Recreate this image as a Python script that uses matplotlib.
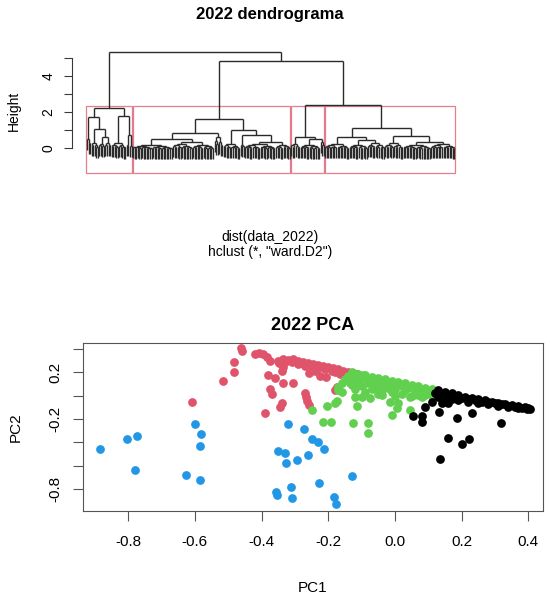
import matplotlib
matplotlib.use("Agg")
import matplotlib.pyplot as plt
from matplotlib.collections import LineCollection
from matplotlib.patches import Rectangle

plt.rcParams['font.family'] = ['Liberation Sans', 'DejaVu Sans']

# -----------------------------------------------------------------------------
# Dendrogram data (ward.D2). Tuples are merges: (height, left, right).
# Lists [k, h] are tight bundles of k leaves whose top merge is at height h.
# -----------------------------------------------------------------------------
cluster1 = (2.26,
            (1.72, [3, 0.50], (1.07, [5, 0.30], (0.61, [4, 0.25], [4, 0.30]))),
            (1.79, [10, 0.30], (0.72, [2, 0.20], [2, 0.15])))
cluster2 = (1.63,
            (0.87, (0.50, [26, 0.20], [27, 0.35]), [6, 0.60]),
            (1.02, [11, 0.25], (0.75, [3, 0.20], (0.37, [20, 0.25], [10, 0.20]))))
cluster3 = (0.64, [6, 0.25], (0.50, [13, 0.20], [3, 0.35]))
cluster4 = (1.15,
            (0.62, [16, 0.25], (0.45, [12, 0.20], [11, 0.30])),
            (0.66, [12, 0.30], (0.37, [18, 0.20], [16, 0.25])))
top_heights = [5.33, 4.87, 2.40]   # root, second, third merge
clusters = [cluster1, cluster2, cluster3, cluster4]

# -----------------------------------------------------------------------------
# PCA scores per cluster
# -----------------------------------------------------------------------------
red_x = [-0.517, -0.609, -0.463, -0.458, -0.483, -0.483, -0.420, -0.407, -0.395, -0.385,
         -0.375, -0.380, -0.360, -0.375, -0.370, -0.335, -0.305, -0.340, -0.345, -0.390,
         -0.347, -0.335, -0.338, -0.350, -0.335, -0.320, -0.305, -0.290, -0.275, -0.260,
         -0.245, -0.230, -0.215, -0.200, -0.185, -0.170, -0.155, -0.140, -0.125, -0.113,
         -0.257, -0.240, -0.225, -0.207, -0.180, -0.165, -0.150, -0.130, -0.270, -0.267,
         -0.263, -0.257, -0.180, -0.175, -0.330, -0.310, -0.290, -0.270, -0.250, -0.230,
         -0.210, -0.190, -0.170, -0.150, -0.130, -0.120, -0.140]
red_y = [0.126, -0.057, 0.406, 0.386, 0.291, 0.206, 0.355, 0.363, 0.357, 0.334,
         0.300, 0.175, 0.149, 0.055, 0.015, 0.106, 0.106, -0.065, -0.094, -0.151,
         0.278, 0.248, 0.214, 0.300, 0.312, 0.306, 0.312, 0.297, 0.289, 0.278,
         0.272, 0.266, 0.255, 0.248, 0.237, 0.226, 0.214, 0.206, 0.192, 0.186,
         0.192, 0.214, 0.169, 0.157, 0.206, 0.186, 0.169, 0.163, 0.026, -0.009,
         -0.043, -0.080, 0.049, 0.077, 0.290, 0.285, 0.270, 0.255, 0.250, 0.235,
         0.225, 0.215, 0.200, 0.190, 0.175, 0.160, 0.150]

green_x = [-0.130, -0.110, -0.090, -0.070, -0.050, -0.030, -0.010, 0.010, 0.030, 0.050,
           0.070, 0.090, 0.110,
           -0.140, -0.120, -0.100, -0.080, -0.060, -0.040, -0.020, 0.000, 0.020, 0.040,
           0.060, 0.080, 0.100, 0.120,
           -0.150, -0.130, -0.110, -0.080, -0.060, -0.040, -0.020, 0.000, 0.030, 0.060,
           0.090, 0.110,
           -0.160, -0.130, -0.100, -0.070, -0.040, -0.010, 0.020, 0.050, 0.080,
           -0.170, -0.120, -0.090, -0.050, 0.000,
           -0.250, -0.205, -0.180, -0.175, -0.215, -0.192, -0.127, -0.120, -0.100, -0.115,
           -0.080, -0.080, -0.170, -0.160, -0.075, -0.040, -0.015, 0.010, 0.005, -0.010,
           0.045, 0.045, 0.070, -0.050, -0.030, -0.135, -0.115, -0.095]
green_y = [0.200, 0.188, 0.176, 0.164, 0.152, 0.141, 0.129, 0.117, 0.105, 0.093,
           0.082, 0.070, 0.058,
           0.170, 0.160, 0.150, 0.140, 0.125, 0.115, 0.100, 0.090, 0.080, 0.065,
           0.055, 0.045, 0.035, 0.025,
           0.140, 0.130, 0.120, 0.105, 0.090, 0.080, 0.065, 0.055, 0.045, 0.025,
           0.010, 0.000,
           0.110, 0.095, 0.080, 0.060, 0.045, 0.030, 0.015, 0.000, -0.015,
           0.075, 0.055, 0.035, 0.015, 0.000,
           -0.123, -0.088, -0.065, -0.043, -0.223, -0.223, -0.237, -0.009, -0.014, -0.088,
           -0.237, -0.322, 0.049, 0.034, -0.022, 0.006, -0.051, -0.065, -0.108, -0.165,
           -0.123, -0.009, 0.006, 0.049, 0.077, 0.106, 0.134, 0.177]

black_x = [0.130, 0.150, 0.170, 0.190, 0.210, 0.230, 0.250, 0.270, 0.290, 0.310,
           0.330, 0.350, 0.370, 0.390, 0.400, 0.405,
           0.120, 0.140, 0.160, 0.180, 0.200, 0.220, 0.240, 0.260, 0.280, 0.300,
           0.320, 0.340, 0.360, 0.380, 0.395,
           0.130, 0.150, 0.170, 0.190, 0.220, 0.250, 0.280, 0.310, 0.340, 0.370,
           0.140, 0.160,
           0.090, 0.110, 0.055, 0.080, 0.080, 0.132, 0.185, 0.232, 0.318, 0.158,
           0.200, 0.222, 0.135]
black_y = [0.047, 0.033, 0.019, 0.006, -0.008, -0.020, -0.030, -0.040, -0.050, -0.060,
           -0.070, -0.080, -0.090, -0.100, -0.105, -0.115,
           0.020, 0.010, 0.000, -0.010, -0.020, -0.030, -0.040, -0.050, -0.055, -0.065,
           -0.075, -0.085, -0.095, -0.105, -0.115,
           -0.010, -0.020, -0.030, -0.040, -0.050, -0.060, -0.075, -0.085, -0.095, -0.105,
           -0.060, -0.065,
           -0.094, -0.051, -0.174, -0.174, -0.223, -0.137, -0.194, -0.151, -0.231, -0.365,
           -0.414, -0.371, -0.540]

blue_x = [-0.885, -0.803, -0.774, -0.780, -0.601, -0.582, -0.584, -0.628, -0.586,
          -0.322, -0.273, -0.249, -0.232, -0.212, -0.350, -0.329, -0.327, -0.294, -0.260,
          -0.128, -0.228, -0.313, -0.358, -0.354, -0.310, -0.182, -0.178]
blue_y = [-0.457, -0.371, -0.345, -0.634, -0.240, -0.326, -0.431, -0.680, -0.720,
          -0.240, -0.288, -0.371, -0.394, -0.457, -0.477, -0.488, -0.577, -0.554, -0.511,
          -0.691, -0.748, -0.782, -0.825, -0.851, -0.877, -0.868, -0.931]

x_ticks = [-0.8, -0.6, -0.4, -0.2, 0.0, 0.2, 0.4]
y_ticks = [0.4, 0.2, 0.0, -0.2, -0.4, -0.6, -0.8]
y_labels = ['', '0.2', '', '-0.2', '', '', '-0.8']

R_RED, R_GREEN, R_BLUE = '#DF536B', '#61D04F', '#2297E6'


# -----------------------------------------------------------------------------
# Helpers for the dendrogram
# -----------------------------------------------------------------------------
def expand(node):
    # turn leaf bundles into small binary subtrees
    if isinstance(node, list):
        k, h = node
        if k == 1:
            return 'leaf'
        a = k // 2
        return (h, expand([a, h * 0.7]), expand([k - a, h * 0.55]))
    h, left, right = node
    return (h, expand(left), expand(right))


def count_leaves(node):
    if node == 'leaf':
        return 1
    return count_leaves(node[1]) + count_leaves(node[2])


def draw_tree(node, segs, counter, hang):
    if node == 'leaf':
        counter[0] += 1
        return counter[0], None
    h, left, right = node
    xl, hl = draw_tree(left, segs, counter, hang)
    xr, hr = draw_tree(right, segs, counter, hang)
    for x, hc in ((xl, hl), (xr, hr)):
        bottom = hc if hc is not None else h - hang
        segs.append([(x, bottom), (x, h)])
    segs.append([(xl, h), (xr, h)])
    return (xl + xr) / 2, h


fig = plt.figure(figsize=(5.5, 6.02), dpi=100)
W, H = 550, 602


def axes_px(left, top, right, bottom):
    return fig.add_axes([left / W, 1 - bottom / H, (right - left) / W, (bottom - top) / H])


# -----------------------------------------------------------------------------
# Dendrogram
# -----------------------------------------------------------------------------
expanded = [expand(c) for c in clusters]
tree = (top_heights[0], expanded[0],
        (top_heights[1], expanded[1], (top_heights[2], expanded[2], expanded[3])))
n = count_leaves(tree)
hang = 0.62

ax1 = axes_px(72.3, 47.5, 469, 173.3)
segs = []
draw_tree(tree, segs, [0], hang)
ax1.add_collection(LineCollection(segs, colors='#2a2a2a', linewidths=1.0))
ax1.set_xlim(1 - 0.04 * (n - 1), n + 0.04 * (n - 1))
ax1.set_ylim(-1.39, 5.6)

# rect.hclust(k = 4, border = 2)
cut = (clusters[0][0] + top_heights[2]) / 2
start = 0
for c in expanded:
    m = count_leaves(c)
    ax1.add_patch(Rectangle((start + 0.66, -1.39), m - 0.33, cut + 1.39, fill=False,
                            edgecolor=R_RED, linewidth=0.9, alpha=0.75, clip_on=False))
    start += m

for s in ['top', 'right', 'bottom']:
    ax1.spines[s].set_visible(False)
ax1.spines['left'].set_bounds(0, 5)
ax1.spines['left'].set_color('#3a3a3a')
ax1.set_xticks([])
ax1.set_yticks([0, 1, 2, 3, 4, 5])
ax1.set_yticklabels(['0', '', '2', '', '4', ''], rotation=90, va='center')
ax1.tick_params(axis='y', length=6, pad=6, labelsize=10, color='#3a3a3a')

fig.text(270 / W, 1 - 15 / H, '2022 dendrograma', ha='center', va='center',
         fontsize=12, fontweight='bold')
fig.text(14 / W, 1 - 111 / H, 'Height', ha='center', va='center', rotation=90, fontsize=10)
fig.text(270 / W, 1 - 237 / H, 'dist(data_2022)', ha='center', va='center', fontsize=10)
fig.text(270 / W, 1 - 252 / H, 'hclust (*, "ward.D2")', ha='center', va='center', fontsize=10)

# -----------------------------------------------------------------------------
# PCA scatter
# -----------------------------------------------------------------------------
ax2 = axes_px(83, 342.7, 542.7, 511)
ms = 6.3
ax2.plot(red_x, red_y, 'o', color=R_RED, ms=ms, mec='none')
ax2.plot(green_x, green_y, 'o', color=R_GREEN, ms=ms, mec='none')
ax2.plot(black_x, black_y, 'o', color='black', ms=ms, mec='none')
ax2.plot(blue_x, blue_y, 'o', color=R_BLUE, ms=ms, mec='none')
ax2.set_xlim(-0.9355, 0.4429)
ax2.set_ylim(-0.988, 0.454)
ax2.set_xticks(x_ticks)
ax2.set_xticklabels([f'{v:.1f}' for v in x_ticks])
ax2.set_yticks(y_ticks)
ax2.set_yticklabels(y_labels, rotation=90, va='center')
ax2.tick_params(length=7, labelsize=11, color='#555555')
ax2.tick_params(axis='x', pad=10)
ax2.tick_params(axis='y', pad=8)
for s in ax2.spines.values():
    s.set_color('#555555')

fig.text(313 / W, 1 - 325 / H, '2022 PCA', ha='center', va='center',
         fontsize=13, fontweight='bold')
fig.text(313 / W, 1 - 588 / H, 'PC1', ha='center', va='center', fontsize=11)
fig.text(16 / W, 1 - 427 / H, 'PC2', ha='center', va='center', rotation=90, fontsize=11)

fig.savefig('out.png', dpi=100)
